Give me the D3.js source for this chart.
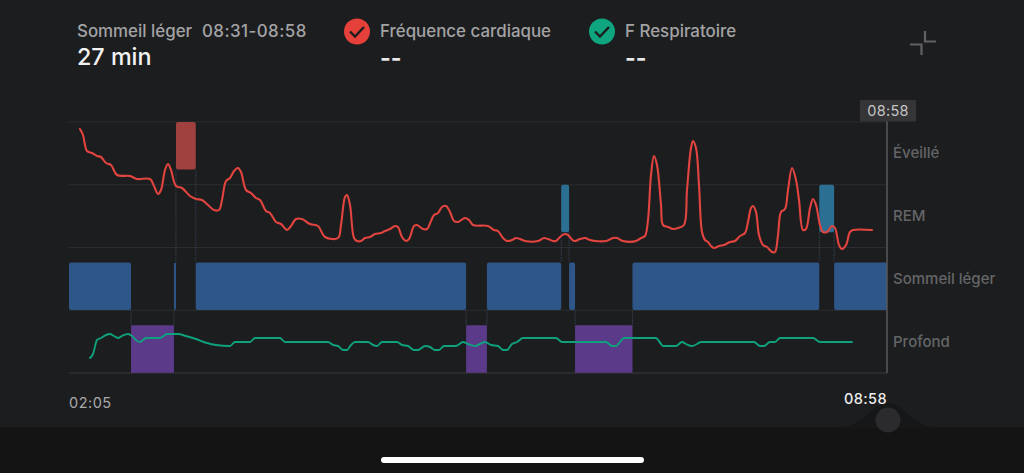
<!DOCTYPE html>
<html><head><meta charset="utf-8">
<script src="https://cdnjs.cloudflare.com/ajax/libs/d3/7.8.5/d3.min.js"></script>
<style>html,body{margin:0;padding:0;background:#1c1d1f;overflow:hidden}svg{display:block}text{font-family:Inter,Roboto,sans-serif}</style>
</head><body><svg id="c" width="1024" height="473"></svg>
<script>
// Sleep stages: names, then segments (stage index, start/end in minutes after 02:05)
const stageNames = ["Éveillé","REM","Sommeil léger","Profond"];
const stageColors = ["#a0413f","#2b7093","#2f5688","#5b3a8a"];
const segStage = [2,3,2,0,2,3,2,1,2,3,2,1,2];
const segStart = [0,31.3,53,54,64,200.5,211,248.5,252.5,255.5,284.5,378.8,386.3];
const segEnd   = [31.3,53,54,64,200.5,211,248.5,252.5,255.5,284.5,378.8,386.3,413];
const startLabel = "02:05", endLabel = "08:58";
// Heart rate: sample index (about 30 s each) and estimated bpm
const hrSample = [11,14,18,23,28,32,37,42,48,61,68,81,85,89,92,96,99,102,107,113,121,127,133,139,145,150,153,157,161,165,169,172,177,182,187,191,197,201,207,212,218,222,227,233,241,249,256,269,272,276,278,281,285,288,292,296,301,306,312,316,321,326,329,333,337,340,345,348,354,358,362,365,369,373,377,381,385,389,396,400,404,419,425,429,434,438,443,447,451,456,469,475,479,484,487,492,496,499,505,511,516,521,526,537,544,548,554,567,572,576,579,582,585,588,592,594,599,604,609,615,618,622,624,627,630,633,636,639,642,645,650,655,661,666,671,676,679,682,684,687,690,694,698,703,706,709,712,716,719,723,727,730,734,737,741,744,747,751,754,758,763,766,770,773,777,781,784,803];
const hrBpm = [101.5,98.5,90.5,89.5,88,87.5,84.5,83.5,78.5,78,76.5,76.5,73,69,71,81,84,81,73,72,68,66.5,66,63.5,61,61,66,75.5,77,80.5,82,80,71,69.5,67,66,60.5,59.5,55,54,51,53,56.5,56.5,54,53,47.5,47,53.5,67.5,68.5,63.5,47,45.5,45.5,47,47.5,49,49.5,50.5,51.5,53,52.5,47.5,45.5,46.5,53,53.5,51.5,51.5,55.5,58.5,59.5,62.5,63,60,55.5,55,57,56,53.5,53,51,50.5,47,45.5,46,47,46.5,45.5,45.5,47,46.5,45.5,45.5,48,49,48.5,45.5,46.5,47,46,45.5,45.5,47,47,45.5,45.5,47,48,56,78.5,88,83.5,63.5,53.5,52.5,51.5,52,53.5,71,92,95.5,92,73.5,50,46,45,43,42,43,43.5,45,45.5,48,49.5,55,62,63,60,48.5,43.5,42.5,40,40,48.5,60,61.5,71,82,76,66,51,51.5,62,66.5,63.5,53.5,50,50,53,52,43.5,41.5,43.5,50,51,51];
// Respiration: sample index and estimated breaths per minute
const respSample = [21,24,28,32,37,41,45,49,53,59,63,68,71,77,91,98,109,117,127,138,147,161,166,181,186,211,216,259,264,269,274,278,282,286,299,304,308,313,328,333,339,345,349,356,361,366,370,375,387,394,399,406,411,416,422,429,434,438,443,448,454,487,493,537,543,547,551,555,587,592,594,607,613,617,623,628,632,685,691,695,701,706,711,744,751,783];
const respRate = [12,13,16.5,17,17.75,18,17.5,17,17.5,18,17.5,16.25,16,17,17,18,18,17.5,16.75,15.75,15.25,15,16,16,17,17,16,16,15.25,15,14,14,15.25,16,16,15.25,15,16,16,15.25,15,14,14,15,14.75,14,14,15,15,16,15.5,15,15.5,16,15.25,15,14,14,15.5,16,17,17,16,16,15,15,16,17,17,15.5,15,15,16,15.5,15,15.5,16,16,15,15,16,16,17,17,16,16];

const svg = d3.select("#c");
const bg="#1c1d1f", band="#141415";
const L=69,R=887,T=122,B=373, rowH=(B-T)/4;
const totalMin=413, samplesTotal=818;
const minutePerSample=totalMin/samplesTotal;

const x=d3.scaleLinear().domain([0,totalMin]).range([L,R]);
const yRow=d3.scaleBand().domain(stageNames).range([T,B]);
const yHr=d3.scaleLinear().domain([40,105]).range([252,122]);
const yResp=d3.scaleLinear().domain([12,18]).range([358,334]);
const barTop=s=>yRow(stageNames[s])+(s<2?0:15);
const barBot=s=>barTop(s)+47.5;

svg.append("rect").attr("width",1024).attr("height",473).attr("fill",bg);
// bottom band and knob
svg.append("rect").attr("y",427).attr("width",1024).attr("height",46).attr("fill",band);
svg.append("path").attr("fill","#161718")
 .attr("d","M836,428 C868,426 870,403 888,403 C906,403 908,426 940,428 Z");
svg.append("circle").attr("cx",888).attr("cy",420).attr("r",12.5).attr("fill","#2b2b2d");
svg.append("rect").attr("x",381).attr("y",457).attr("width",263).attr("height",6).attr("rx",3).attr("fill","#fff");

// grid
const gridYs=[0,1,2,3,4].map(i=>T+i*rowH);
svg.append("g").selectAll("line").data(gridYs).join("line")
 .attr("x1",L).attr("x2",R).attr("y1",d=>d).attr("y2",d=>d)
 .attr("stroke",(d,i)=>i==4?"#3a3a3c":"#2a2c2f").attr("stroke-width",1);

// transitions connectors
const segs=segStage.map((s,i)=>({s,a:segStart[i],b:segEnd[i]}));
const conn=svg.append("g");
segs.forEach((d,i)=>{ if(i==0) return; const p=segs[i-1];
  const r1=Math.min(d.s,p.s), r2=Math.max(d.s,p.s);
  conn.append("line").attr("x1",x(d.a)).attr("x2",x(d.a))
   .attr("y1",barBot(r1)).attr("y2",barTop(r2))
   .attr("stroke","#36424f").attr("stroke-width",1).attr("stroke-dasharray","1.5 1");
});
// segments
svg.append("g").selectAll("rect").data(segs).join("rect")
 .attr("x",d=>x(d.a)).attr("width",d=>Math.max(0,x(d.b)-x(d.a)))
 .attr("y",d=>barTop(d.s))
 .attr("height",47.5)
 .attr("rx",d=>d.s==3?0:2)
 .attr("fill",d=>stageColors[d.s]);

// right axis line
svg.append("line").attr("x1",R).attr("x2",R).attr("y1",T-1).attr("y2",B).attr("stroke","#58595b").attr("stroke-width",1.5);
svg.append("rect").attr("x",860).attr("y",100).attr("width",56).attr("height",21.5).attr("fill","#353537");
svg.append("text").text(endLabel).attr("x",888).attr("y",116).attr("text-anchor","middle").attr("font-size",14.5).attr("fill","#c4c4c4").attr("letter-spacing",0.3);

// stage labels
svg.append("g").selectAll("text").data(stageNames).join("text").text(d=>d)
 .attr("x",893).attr("y",(d,i)=>[158,221,284,347][i])
 .attr("font-size",15).attr("font-weight",500).attr("fill","#646567");

// lines
const hrLine=d3.line().curve(d3.curveCatmullRom.alpha(0.5));
const respLine=d3.line().curve(d3.curveMonotoneX);
const hrPts=hrSample.map((s,i)=>[x(s*minutePerSample),yHr(hrBpm[i])]);
const respPts=respSample.map((s,i)=>[x(s*minutePerSample),yResp(respRate[i])]);
svg.append("path").attr("d",hrLine(hrPts)).attr("fill","none").attr("stroke","#e2443f").attr("stroke-width",2.1).attr("stroke-linecap","round").attr("stroke-linejoin","round");
svg.append("path").attr("d",respLine(respPts)).attr("fill","none").attr("stroke","#0fa17d").attr("stroke-width",1.9).attr("stroke-linecap","round").attr("stroke-linejoin","round");

// x labels
svg.append("text").text(startLabel).attr("x",69).attr("y",408).attr("font-size",14.5).attr("fill","#a9a9aa").attr("letter-spacing",0.5);
svg.append("text").text(endLabel).attr("x",887).attr("y",404).attr("text-anchor","end").attr("font-size",14.5).attr("font-weight",500).attr("fill","#ededed").attr("letter-spacing",0.4);

// header
svg.append("text").text("Sommeil léger").attr("x",77).attr("y",37).attr("font-size",16.9).attr("font-weight",500).attr("fill","#a3a3a5");
svg.append("text").text("08:31-08:58").attr("x",202).attr("y",37).attr("font-size",16.9).attr("font-weight",500).attr("fill","#a3a3a5").attr("letter-spacing",0.45);
svg.append("text").text("27 min").attr("x",77).attr("y",65).attr("font-size",23.3).attr("font-weight",500).attr("fill","#f2f2f2");
function legend(cx,col,label){
  svg.append("circle").attr("cx",cx).attr("cy",31.5).attr("r",13).attr("fill",col);
  svg.append("path").attr("d",`M${cx-7},${31.5} L${cx-2},${36.5} L${cx+7},${27}`).attr("fill","none").attr("stroke","#1c1d1f").attr("stroke-width",2.4);
  svg.append("text").text(label).attr("x",cx+23).attr("y",37).attr("font-size",16.9).attr("font-weight",500).attr("fill","#a3a3a5");
  svg.append("text").text("--").attr("x",cx+23).attr("y",66).attr("font-size",23).attr("font-weight",700).attr("fill","#e8e8e8");
}
legend(357,"#e5403a","Fréquence cardiaque");
legend(602,"#0fa57f","F Respiratoire");
// collapse icon
svg.append("path").attr("d","M925,31 V41.5 H936 M910,44.5 H921.5 V55").attr("fill","none").attr("stroke","#626264").attr("stroke-width",2.2);
</script></body></html>
